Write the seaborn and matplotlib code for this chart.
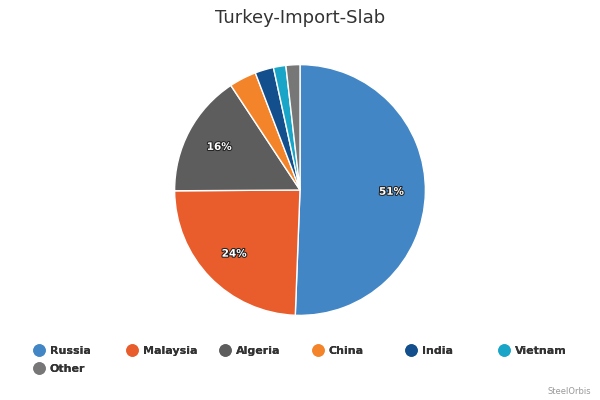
import matplotlib
matplotlib.use("Agg")
import matplotlib.pyplot as plt
import matplotlib.patheffects as pe
from matplotlib.lines import Line2D
import seaborn as sns

# data
countries = ["Russia", "Malaysia", "Algeria", "China", "India", "Vietnam", "Other"]
shares = [50.6, 24.3, 15.8, 3.5, 2.4, 1.6, 1.8]
colors = ["#4286c5", "#e95c2b", "#5d5d5d", "#f4842a", "#134f8c", "#18a5c7", "#777777"]
title = "Turkey-Import-Slab"
credit = "SteelOrbis"

sns.set_theme(style="white")
plt.rcParams["font.family"] = ["DejaVu Sans"]

fig = plt.figure(figsize=(6, 4), dpi=100)
ax = fig.add_axes([0.29, 0.21, 0.42, 0.63])

wedges, texts, autotexts = ax.pie(
    shares, colors=colors, startangle=90, counterclock=False,
    wedgeprops=dict(edgecolor="white", linewidth=1),
    autopct=lambda p: f"{p:.0f}%" if p > 5 else "", pctdistance=0.73,
    textprops=dict(color="white", fontsize=7.5, fontweight="bold"),
)
for t in autotexts:
    t.set_path_effects([pe.withStroke(linewidth=1.5, foreground="#222222")])
ax.set_xlim(-1.005, 1.005)
ax.set_ylim(-1.005, 1.005)
ax.set_aspect("equal")

fig.text(0.5, 0.955, title, ha="center", va="center", fontsize=13, color="#333333")

# legend: fixed item width, 6 per row
for i, (name, col) in enumerate(zip(countries, colors)):
    x = 39 / 600 + (i % 6) * 93 / 600
    y = 1 - (351 + (i // 6) * 18) / 400
    leg = fig.legend(handles=[Line2D([], [], marker="o", linestyle="", markersize=8,
                                     markerfacecolor=col, markeredgecolor=col)],
                     labels=[name], loc="center left",
                     bbox_to_anchor=(x - 0.01, y), frameon=False,
                     handlelength=1.0, handletextpad=0.5, borderpad=0, borderaxespad=0,
                     prop=dict(size=8, weight="bold"))
    for t in leg.get_texts():
        t.set_color("#333333")
    fig.add_artist(leg)

fig.text(0.985, 0.02, credit, ha="right", va="center", fontsize=6, color="#999999")

fig.savefig("out.png", dpi=100)
